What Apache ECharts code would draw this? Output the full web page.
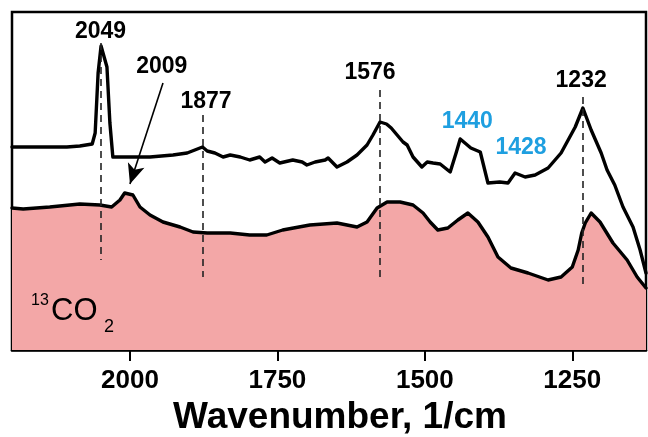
<!DOCTYPE html>
<html>
<head>
<meta charset="utf-8">
<script src="https://cdn.jsdelivr.net/npm/echarts@6/dist/echarts.min.js"></script>
<style>
  html, body { margin: 0; padding: 0; background: #fff; }
  #chart { width: 648px; height: 437px; }
</style>
</head>
<body>
<div id="chart"></div>
<script>
// IR spectra, wavenumber (1/cm) vs. absorbance (arbitrary units, offset traces)
const tickValues = [2000, 1750, 1500, 1250];

// Upper trace
const upperWn = [2200, 2164, 2107, 2085, 2064, 2059, 2054, 2049, 2039, 2034, 2029, 2017, 1995, 1966, 1927, 1903, 1877,
  1869, 1856, 1842, 1830, 1813, 1797, 1780, 1771, 1759, 1746, 1724, 1708, 1700, 1686, 1669, 1664, 1649, 1632, 1615,
  1598, 1588, 1576, 1565, 1557, 1547, 1537, 1530, 1520, 1505, 1496, 1486, 1474,
  1457, 1447, 1440, 1422, 1406, 1393, 1373, 1359, 1347, 1330, 1313, 1291, 1269, 1245, 1232,
  1218, 1201, 1191, 1178, 1164, 1147, 1135, 1125];
const upperAbs = [203, 203, 203, 204, 206, 217, 277, 304, 283, 227, 193, 193, 193, 193, 195, 197, 203,
  199, 197, 193, 195, 193, 190, 193, 188, 192, 187, 190, 188, 185, 188, 190, 192, 183, 188, 195,
  205, 215, 228, 226, 222, 215, 208, 205, 193, 183, 188, 187, 186,
  178, 197, 211, 202, 198, 167, 168, 167, 177, 173, 175, 182, 197, 223, 242,
  220, 197, 180, 165, 143, 123, 100, 77];

// Lower trace (13CO2)
const lowerWn = [2200, 2181, 2136, 2085, 2051, 2031, 2017, 2009, 1995, 1983, 1966, 1944, 1915, 1893, 1869, 1847, 1830,
  1797, 1768, 1741, 1695, 1649, 1615, 1598, 1581, 1564, 1542, 1520, 1503, 1491, 1478, 1461, 1444, 1427,
  1410, 1393, 1376, 1354, 1325, 1291, 1269, 1250, 1240, 1234, 1228, 1218, 1203, 1181, 1157, 1140, 1125];
const lowerAbs = [142, 141, 143, 146, 145, 143, 150, 157, 155, 143, 135, 128, 123, 118, 117, 117, 117,
  115, 115, 120, 125, 127, 123, 128, 142, 148, 148, 145, 137, 128, 120, 122, 130, 137,
  128, 113, 93, 82, 77, 70, 73, 83, 100, 117, 127, 137, 128, 107, 90, 73, 62];

// Peak labels: text, anchor [wavenumber, absorbance], colour
const peakLabels = ['2049', '2009', '1877', '1576', '1440', '1428', '1232'];
const peakAnchors = [[2050, 318], [1946, 283], [1871, 248], [1593, 277], [1428, 228], [1337, 202], [1235, 269]];
const peakColors = ['#000', '#000', '#000', '#000', '#1e9fe0', '#1e9fe0', '#000'];

// Dashed guide lines: wavenumber, from/to absorbance
const guideWn = [2049, 1877, 1576, 1232];
const guideFrom = [307, 235, 260, 253];
const guideTo = [90, 73, 70, 65];

const zip = (a, b) => a.map((v, i) => [v, b[i]]);
const font = "'Liberation Sans', Arial, sans-serif";
const curveStyle = { color: '#000', width: 3.4, join: 'round', cap: 'round' };

const chart = echarts.init(document.getElementById('chart'));
chart.setOption({
  animation: false,
  backgroundColor: '#fff',
  grid: {
    left: 12, right: 2, top: 12, bottom: 87,
    containLabel: false,
    outerBoundsMode: 'none',
    show: true, borderColor: '#000', borderWidth: 2.5, backgroundColor: 'transparent'
  },
  xAxis: {
    type: 'value',
    inverse: true,
    min: 1125,
    max: 2200,
    name: 'Wavenumber, 1/cm',
    nameLocation: 'middle',
    nameGap: 47,
    nameTextStyle: { fontFamily: font, fontWeight: 'bold', fontSize: 37, color: '#000', padding: [0, 0, 0, 22] },
    axisLine: { show: true, lineStyle: { color: '#000', width: 2.5 } },
    axisTick: { show: true, inside: false, length: 11, lineStyle: { color: '#000', width: 2 }, customValues: tickValues },
    axisLabel: {
      fontFamily: font, fontWeight: 'bold', fontSize: 26, color: '#000', margin: 18,
      customValues: tickValues, formatter: v => String(v)
    },
    splitLine: { show: false }
  },
  yAxis: {
    type: 'value', min: 0, max: 338, show: false
  },
  graphic: [
    { type: 'text', left: 31, top: 293, style: { text: '13', font: '16px ' + font, fill: '#000' }, z: 10 },
    { type: 'text', left: 51, top: 296, style: { text: 'CO', font: '31px ' + font, fill: '#000' }, z: 10 },
    { type: 'text', left: 104, top: 318, style: { text: '2', font: '18px ' + font, fill: '#000' }, z: 10 }
  ],
  series: [
    {
      type: 'line',
      data: zip(lowerWn, lowerAbs),
      symbol: 'none',
      lineStyle: curveStyle,
      areaStyle: { color: '#f3a7a7', opacity: 1, origin: 'start' },
      z: 2
    },
    {
      type: 'line',
      data: zip(upperWn, upperAbs),
      symbol: 'none',
      lineStyle: curveStyle,
      z: 3
    },
    {
      type: 'line',
      data: [],
      z: 4,
      markLine: {
        silent: true,
        animation: false,
        label: { show: false },
        data: guideWn.map((w, i) => [
          { coord: [w, guideFrom[i]], symbol: 'none', lineStyle: { type: [7, 5], color: '#222', width: 1.6 } },
          { coord: [w, guideTo[i]], symbol: 'none' }
        ]).concat([[
          { coord: [1944, 267], symbol: 'none', lineStyle: { type: 'solid', color: '#000', width: 1.6 } },
          { coord: [2000, 166], symbol: 'arrow', symbolSize: [13, 20] }
        ]])
      }
    },
    {
      type: 'scatter',
      symbolSize: 0,
      z: 5,
      itemStyle: { opacity: 1 },
      data: peakLabels.map((t, i) => ({
        value: peakAnchors[i],
        label: {
          show: true, position: 'inside', formatter: t,
          fontFamily: font, fontWeight: 'bold', fontSize: 23, color: peakColors[i], opacity: 1
        }
      }))
    }
  ]
});
</script>
</body>
</html>
